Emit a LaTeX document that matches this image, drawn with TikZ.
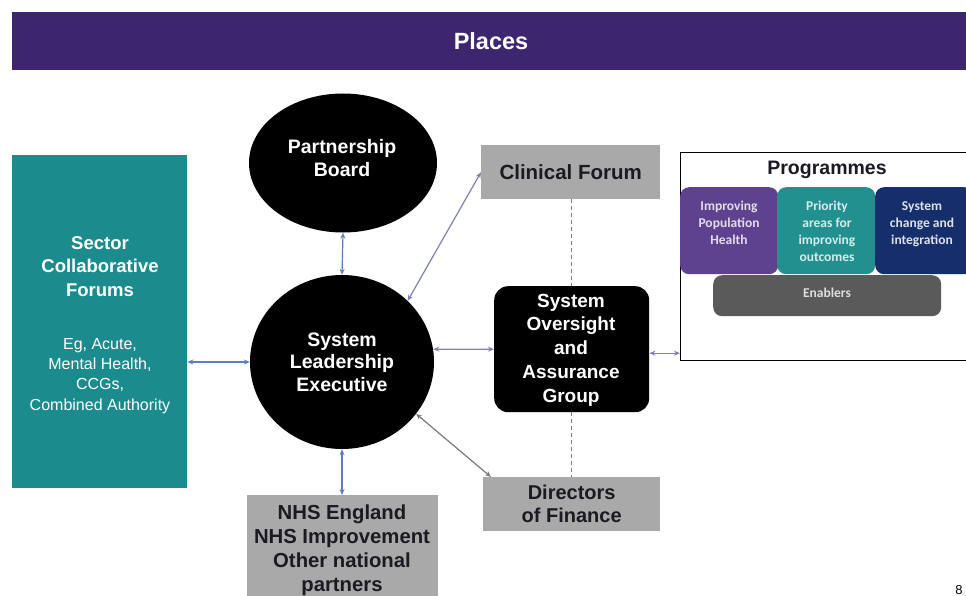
\documentclass[tikz,border=0pt]{standalone}
\usepackage{fontspec}
\setmainfont{Liberation Sans}
\newfontfamily\calfont{Carlito}
\usetikzlibrary{shapes.geometric,arrows.meta,calc}
\definecolor{titlebar}{HTML}{3D2570}
\definecolor{scfteal}{HTML}{1C8B8E}
\definecolor{boxgray}{HTML}{A9A9A9}
\definecolor{pPurple}{HTML}{5E4290}
\definecolor{pTeal}{HTML}{22908F}
\definecolor{pNavy}{HTML}{142F6C}
\definecolor{pGray}{HTML}{5A5A5A}
\definecolor{arrblue}{HTML}{5A7FBF}
\definecolor{arrpurple}{HTML}{8080B8}
\definecolor{arrgray}{HTML}{7A7A7A}
\definecolor{darktext}{HTML}{1A1A22}
\tikzset{
  blackshape/.style={fill=black,draw=none,text=white,align=center,inner sep=0pt,
    font=\bfseries\fontsize{19.5}{22.5}\selectfont},
  graybox/.style={fill=boxgray,draw=none,text=darktext,align=center,inner sep=0pt,
    font=\bfseries\fontsize{19.5}{23}\selectfont},
  progbox/.style={rounded corners=9pt,draw=none,anchor=north west,inner sep=0pt},
  progtext/.style={align=center,anchor=north,inner sep=0pt,
    font=\calfont\bfseries\fontsize{13.5}{17}\selectfont},
  link/.style={line width=1.2pt,{Stealth[length=6pt,width=5pt]}-{Stealth[length=6pt,width=5pt]}},
  dashlink/.style={line width=0.8pt,draw=arrgray,dash pattern=on 4pt off 3pt}
}
\begin{document}
\begin{tikzpicture}[x=1pt,y=-1pt]
\useasboundingbox (0,0) rectangle (966,596);
\clip (0,0) rectangle (966,596);
\fill[white] (0,0) rectangle (966,596);
% title bar
\node[fill=titlebar,minimum width=962pt,minimum height=58pt,anchor=north west,inner sep=0pt] (title) at (12,12) {};
\node[text=white,font=\bfseries\fontsize{23.5}{26}\selectfont] (titletext) at (491,41) {Places};
% sector collaborative forums
\node[fill=scfteal,minimum width=175pt,minimum height=333pt,anchor=north west,inner sep=0pt] (scf) at (12,155) {};
\node[text=white,align=center,anchor=north,inner sep=0pt,font=\bfseries\fontsize{18.5}{23.5}\selectfont] (scftitle) at (100,236) {Sector\\Collaborative\\Forums};
\node[text=white,align=center,anchor=north,inner sep=0pt,font=\fontsize{16}{20.3}\selectfont] (scfsub) at (100,338) {Eg, Acute,\\Mental Health,\\CCGs,\\Combined Authority};
% partnership board and SLE
\node[blackshape,ellipse,minimum width=188pt,minimum height=139pt] (pb) at (343,163) {};
\node[text=white,align=center,inner sep=0pt,font=\bfseries\fontsize{19.5}{22.5}\selectfont] (pbtext) at (342,158) {Partnership\\Board};
\node[blackshape,ellipse,minimum width=184pt,minimum height=174pt] (sle) at (342,362) {System\\Leadership\\Executive};
% clinical forum
\node[graybox,minimum width=179pt,minimum height=54pt,anchor=north west,font=\bfseries\fontsize{20.5}{23}\selectfont] (cf) at (481,145) {Clinical Forum};
% SOAG
\node[fill=black,rounded corners=14pt,minimum width=155pt,minimum height=126pt,anchor=north west,inner sep=0pt] (soag) at (494,286) {};
\node[text=white,align=center,inner sep=0pt,font=\bfseries\fontsize{19}{23.8}\selectfont] (soagtext) at (571,350) {System\\Oversight\\and\\Assurance\\Group};
% directors of finance
\node[graybox,minimum width=177pt,minimum height=54pt,anchor=north west,font=\bfseries\fontsize{20}{23}\selectfont] (dof) at (483,477) {Directors\\of Finance};
% NHS
\node[fill=boxgray,minimum width=191pt,minimum height=110pt,anchor=north west,inner sep=0pt] (nhs) at (247,495) {};
\node[text=darktext,align=center,anchor=north,inner sep=0pt,font=\bfseries\fontsize{20.3}{23.7}\selectfont] (nhstext) at (342,505) {NHS England\\NHS Improvement\\Other national\\partners};
% programmes
\node[draw=black,line width=1pt,fill=white,minimum width=300pt,minimum height=208pt,anchor=north west,inner sep=0pt] (prog) at (680,152) {};
\node[font=\bfseries\fontsize{19.5}{22}\selectfont,text=darktext] (progtitle) at (827,170) {Programmes};
\node[progbox,fill=pPurple,minimum width=98pt,minimum height=87pt] (p1) at (680,187) {};
\node[progbox,fill=pTeal,minimum width=98pt,minimum height=87pt] (p2) at (777,187) {};
\node[progbox,fill=pNavy,minimum width=98pt,minimum height=87pt] (p3) at (875,187) {};
\node[progbox,fill=pGray,minimum width=228pt,minimum height=41pt] (p4) at (713,275) {};
\node[progtext,text=white!82!pPurple] (p1t) at (729,201) {Improving\\Population\\Health};
\node[progtext,text=white!82!pTeal] (p2t) at (827,201) {Priority\\areas for\\improving\\outcomes};
\node[progtext,text=white!85!pNavy] (p3t) at (922,201) {System\\change and\\integration};
\node[progtext,anchor=center,text=white!80!pGray] (p4t) at (827,293) {Enablers};
% page number
\node[anchor=south,inner sep=0pt,font=\fontsize{13}{15}\selectfont] (pgnum) at (959,595) {8};
% connectors
\draw[link,draw=arrblue] (pb.south) -- (sle.north);
\draw[link,draw=arrblue] (sle.south) -- (nhs.north -| sle.south);
\draw[link,draw=arrblue] (scf.east |- sle.west) -- (sle.west);
\draw[link,draw=arrpurple] (sle.43) -- (cf.west);
\draw[link,draw=arrpurple] (sle.8) -- (soag.west);
\draw[link,draw=arrgray] (sle.-35) -- ($(dof.north west)+(8,0)$);
\draw[link,draw=arrpurple] ($(soag.east)+(0,4)$) -- ($(prog.west |- soag.east)+(0,4)$);
\draw[dashlink] (cf.south -| soagtext) -- (soag.north -| soagtext);
\draw[dashlink] (soag.south -| soagtext) -- (dof.north -| soagtext);
\end{tikzpicture}
\end{document}
